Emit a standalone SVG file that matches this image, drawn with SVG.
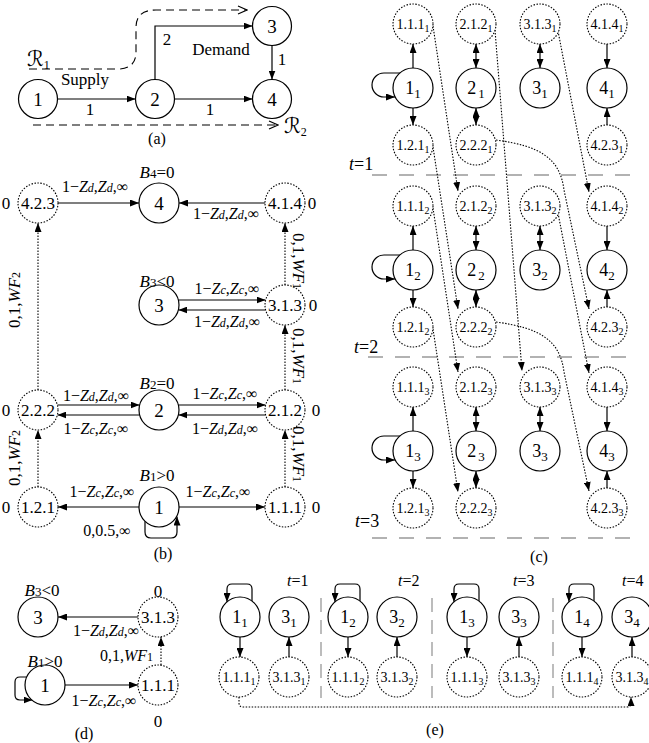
<svg xmlns="http://www.w3.org/2000/svg" width="649" height="743" viewBox="0 0 649 743">
<defs>
<style>
text{font-family:"Liberation Serif","Times New Roman",serif;fill:#000}
.n{fill:#fff;stroke:#000;stroke-width:1.2}
.d{fill:#fff;stroke:#000;stroke-width:1.1;stroke-dasharray:1.5 1.5}
.e{fill:none;stroke:#000;stroke-width:1.2;marker-end:url(#ah)}
.e2{fill:none;stroke:#000;stroke-width:1.2;marker-start:url(#ah);marker-end:url(#ah)}
.de{fill:none;stroke:#000;stroke-width:1.1;stroke-dasharray:1.5 1.5;marker-end:url(#ah)}
.rr{fill:none;stroke:#000;stroke-width:1.1;stroke-dasharray:8 5;marker-end:url(#oa)}
.sep{fill:none;stroke:#999;stroke-width:1.3;stroke-dasharray:15 12}
.vsep{fill:none;stroke:#999;stroke-width:1.3;stroke-dasharray:14 8}
.nl{font-size:19px;text-anchor:middle}
.dl{font-size:17px;text-anchor:middle}
.lb{font-size:16px;text-anchor:middle}
.cn{font-size:18px;text-anchor:middle}
.cl{font-size:14px;text-anchor:middle}
.i{font-style:italic}
.s12{font-size:12px}
.s10{font-size:10px}
.s13{font-size:13px}
.rt{font-family:"DejaVu Serif","DejaVu Sans",serif;font-size:21px}
</style>
<marker id="ah" viewBox="0 0 9 7" refX="9" refY="3.5" markerWidth="9" markerHeight="7" markerUnits="userSpaceOnUse" orient="auto-start-reverse"><path d="M0,0L9,3.5L0,7z" fill="#000"/></marker>
<marker id="oa" viewBox="0 0 11 10" refX="10" refY="5" markerWidth="11" markerHeight="10" markerUnits="userSpaceOnUse" orient="auto"><path d="M1,1L10,5L1,9" fill="none" stroke="#000" stroke-width="1.1"/></marker>
</defs>

<!-- ===== Panel (a) ===== -->
<g id="a-edges">
<path class="e" d="M57.5 99H135.5"/>
<path class="e" d="M174.5 99H252.5"/>
<path class="e" d="M155 79.5V26H252.5"/>
<path class="e" d="M272 45.5V79.5"/>
<path class="rr" d="M29 69H118C130 69 136 63 136 52V28C136 16 142 10 156 10H247"/>
<path class="rr" d="M33 125H278"/>
</g>
<g id="a1"><circle class="n" cx="38" cy="99" r="19.5"/><text class="nl" x="38" y="105.5">1</text></g>
<g id="a2"><circle class="n" cx="155" cy="99" r="19.5"/><text class="nl" x="155" y="105.5">2</text></g>
<g id="a3"><circle class="n" cx="272" cy="26" r="19.5"/><text class="nl" x="272" y="32.5">3</text></g>
<g id="a4"><circle class="n" cx="272" cy="99" r="19.5"/><text class="nl" x="272" y="105.5">4</text></g>
<g id="a-labels">
<text x="85" y="85" font-size="17" text-anchor="middle">Supply</text>
<text x="90" y="115" font-size="17" text-anchor="middle">1</text>
<text x="210" y="115" font-size="17" text-anchor="middle">1</text>
<text x="167" y="45" font-size="17" text-anchor="middle">2</text>
<text x="221" y="55" font-size="17" text-anchor="middle">Demand</text>
<text x="282" y="65" font-size="17" text-anchor="middle">1</text>
<text class="rt" x="27" y="66">ℛ<tspan font-family="Liberation Serif" font-size="12" dy="3">1</tspan></text>
<text class="rt" x="284" y="133">ℛ<tspan font-family="Liberation Serif" font-size="12" dy="3">2</tspan></text>
<text x="157" y="144" font-size="16" text-anchor="middle">(a)</text>
</g>

<!-- ===== Panel (b) ===== -->
<g id="b-edges">
<path class="e" d="M58 203H139"/>
<path class="e" d="M265 203H179"/>
<path class="e" d="M178.4 300H265.6"/>
<path class="e" d="M265.6 310H178.4"/>
<path class="e" d="M57.4 405H139.6"/>
<path class="e" d="M139.6 415H57.4"/>
<path class="e" d="M178.4 405H265.6"/>
<path class="e" d="M265.6 415H178.4"/>
<path class="e" d="M139 507H58"/>
<path class="e" d="M179 507H265"/>
<path class="e" d="M145 521.3V532Q145 538 151 538H171Q177 538 177 532V516.5"/>
<path class="de" d="M38 390V223"/>
<path class="de" d="M38 487V430"/>
<path class="de" d="M285 285V223"/>
<path class="de" d="M285 390V325"/>
<path class="de" d="M285 487V430"/>
</g>
<g id="b4"><circle class="n" cx="159" cy="203" r="20"/><text class="nl" x="159" y="209.5">4</text></g>
<g id="b3"><circle class="n" cx="159" cy="305" r="20"/><text class="nl" x="159" y="311.5">3</text></g>
<g id="b2"><circle class="n" cx="159" cy="410" r="20"/><text class="nl" x="159" y="416.5">2</text></g>
<g id="b1"><circle class="n" cx="159" cy="507" r="20"/><text class="nl" x="159" y="513.5">1</text></g>
<g id="b423"><circle class="d" cx="38" cy="203" r="20"/><text class="dl" x="38" y="209">4.2.3</text></g>
<g id="b414"><circle class="d" cx="285" cy="203" r="20"/><text class="dl" x="285" y="209">4.1.4</text></g>
<g id="b313"><circle class="d" cx="285" cy="305" r="20"/><text class="dl" x="285" y="311">3.1.3</text></g>
<g id="b222"><circle class="d" cx="38" cy="410" r="20"/><text class="dl" x="38" y="416">2.2.2</text></g>
<g id="b212"><circle class="d" cx="285" cy="410" r="20"/><text class="dl" x="285" y="416">2.1.2</text></g>
<g id="b121"><circle class="d" cx="38" cy="507" r="20"/><text class="dl" x="38" y="513">1.2.1</text></g>
<g id="b111"><circle class="d" cx="285" cy="507" r="20"/><text class="dl" x="285" y="513">1.1.1</text></g>
<g id="b-labels">
<text class="dl" x="6" y="209">0</text>
<text class="dl" x="312" y="209">0</text>
<text class="dl" x="313" y="311">0</text>
<text class="dl" x="6" y="416">0</text>
<text class="dl" x="316" y="416">0</text>
<text class="dl" x="6" y="513">0</text>
<text class="dl" x="316" y="513">0</text>
<text class="dl" x="157" y="178"><tspan class="i">B</tspan><tspan class="s13">4</tspan>=0</text>
<text class="dl" x="157" y="287"><tspan class="i">B</tspan><tspan class="s13">3</tspan>&lt;0</text>
<text class="dl" x="157" y="389"><tspan class="i">B</tspan><tspan class="s13">2</tspan>=0</text>
<text class="dl" x="157" y="481"><tspan class="i">B</tspan><tspan class="s13">1</tspan>&gt;0</text>
<text class="lb" x="95" y="192">1−<tspan class="i">Z</tspan><tspan class="i s12">d</tspan>,<tspan class="i">Z</tspan><tspan class="i s12">d</tspan>,∞</text>
<text class="lb" x="226" y="219">1−<tspan class="i">Z</tspan><tspan class="i s12">d</tspan>,<tspan class="i">Z</tspan><tspan class="i s12">d</tspan>,∞</text>
<text class="lb" x="227" y="294">1−<tspan class="i">Z</tspan><tspan class="i s12">c</tspan>,<tspan class="i">Z</tspan><tspan class="i s12">c</tspan>,∞</text>
<text class="lb" x="227" y="327">1−<tspan class="i">Z</tspan><tspan class="i s12">d</tspan>,<tspan class="i">Z</tspan><tspan class="i s12">d</tspan>,∞</text>
<text class="lb" x="96" y="401">1−<tspan class="i">Z</tspan><tspan class="i s12">d</tspan>,<tspan class="i">Z</tspan><tspan class="i s12">d</tspan>,∞</text>
<text class="lb" x="96" y="434">1−<tspan class="i">Z</tspan><tspan class="i s12">c</tspan>,<tspan class="i">Z</tspan><tspan class="i s12">c</tspan>,∞</text>
<text class="lb" x="225" y="399">1−<tspan class="i">Z</tspan><tspan class="i s12">c</tspan>,<tspan class="i">Z</tspan><tspan class="i s12">c</tspan>,∞</text>
<text class="lb" x="225" y="434">1−<tspan class="i">Z</tspan><tspan class="i s12">d</tspan>,<tspan class="i">Z</tspan><tspan class="i s12">d</tspan>,∞</text>
<text class="lb" x="102" y="497">1−<tspan class="i">Z</tspan><tspan class="i s12">c</tspan>,<tspan class="i">Z</tspan><tspan class="i s12">c</tspan>,∞</text>
<text class="lb" x="218" y="497">1−<tspan class="i">Z</tspan><tspan class="i s12">c</tspan>,<tspan class="i">Z</tspan><tspan class="i s12">c</tspan>,∞</text>
<text class="lb" x="107" y="536">0,0.5,∞</text>
<text class="dl" transform="translate(20 300) rotate(-90)">0,1,<tspan class="i">WF</tspan><tspan class="s12">2</tspan></text>
<text class="dl" transform="translate(20 458) rotate(-90)">0,1,<tspan class="i">WF</tspan><tspan class="s12">2</tspan></text>
<text class="dl" transform="translate(293 261) rotate(90)">0,1,<tspan class="i">WF</tspan><tspan class="s12">1</tspan></text>
<text class="dl" transform="translate(293 356) rotate(90)">0,1,<tspan class="i">WF</tspan><tspan class="s12">1</tspan></text>
<text class="dl" transform="translate(293 454) rotate(90)">0,1,<tspan class="i">WF</tspan><tspan class="s12">1</tspan></text>
<text x="163" y="559" font-size="16" text-anchor="middle">(b)</text>
</g>

<!-- ===== Panel (c) ===== -->
<g id="c-separators">
<path class="sep" d="M372 175H638"/>
<path class="sep" d="M368 357H638"/>
<path class="sep" d="M372 538H640"/>
<text x="349" y="170" font-size="18"><tspan class="i">t</tspan>=1</text>
<text x="354" y="353" font-size="18"><tspan class="i">t</tspan>=2</text>
<text x="355" y="527" font-size="18"><tspan class="i">t</tspan>=3</text>
<text x="539" y="562" font-size="16" text-anchor="middle">(c)</text>
</g>
<g id="c-edges">
<path class="e" d="M413 68V44"/>
<path class="e" d="M413 108V125"/>
<path class="e2" d="M476 44V68"/>
<path class="e2" d="M476 108V125"/>
<path class="e2" d="M540 44V68"/>
<path class="e" d="M607 44V68"/>
<path class="e" d="M607 125V108"/>
<path class="e" d="M400 73H384A12 12 0 0 0 384 97H395"/>
<path class="e" d="M413 250V226"/>
<path class="e" d="M413 290V307"/>
<path class="e2" d="M476 226V250"/>
<path class="e2" d="M476 290V307"/>
<path class="e2" d="M540 226V250"/>
<path class="e" d="M607 226V250"/>
<path class="e" d="M607 307V290"/>
<path class="e" d="M400 255H384A12 12 0 0 0 384 279H395"/>
<path class="e" d="M413 431V407"/>
<path class="e" d="M413 471V488"/>
<path class="e2" d="M476 407V431"/>
<path class="e2" d="M476 471V488"/>
<path class="e2" d="M540 407V431"/>
<path class="e" d="M607 407V431"/>
<path class="e" d="M607 488V471"/>
<path class="e" d="M400 436H384A12 12 0 0 0 384 460H395"/>
<path class="de" d="M433 26L458 191"/>
<path class="de" d="M433 147L458 309"/>
<path class="de" d="M558 31L589 192"/>
<path class="de" d="M496 140C540 146 560 158 564 190L589 309"/>
<path class="de" d="M495 30L522 371"/>
<path class="de" d="M433 208L458 372"/>
<path class="de" d="M433 329L458 492"/>
<path class="de" d="M558 213L589 373"/>
<path class="de" d="M496 322C540 328 560 340 564 372L589 491"/>
</g>
<g id="c111-1"><circle class="d" cx="413" cy="24" r="20"/><text class="cl" x="413" y="29">1.1.1<tspan class="s10" dy="3">1</tspan></text></g>
<g id="c212-1"><circle class="d" cx="476" cy="24" r="20"/><text class="cl" x="476" y="29">2.1.2<tspan class="s10" dy="3">1</tspan></text></g>
<g id="c313-1"><circle class="d" cx="540" cy="24" r="20"/><text class="cl" x="540" y="29">3.1.3<tspan class="s10" dy="3">1</tspan></text></g>
<g id="c414-1"><circle class="d" cx="607" cy="24" r="20"/><text class="cl" x="607" y="29">4.1.4<tspan class="s10" dy="3">1</tspan></text></g>
<g id="c1-1"><circle class="n" cx="413" cy="88" r="20"/><text class="cn" x="413" y="94">1<tspan class="s13" dy="4">1</tspan></text></g>
<g id="c2-1"><circle class="n" cx="476" cy="88" r="20"/><text class="cn" x="476" y="94">2<tspan class="s13" dx="2" dy="4">1</tspan></text></g>
<g id="c3-1"><circle class="n" cx="540" cy="88" r="20"/><text class="cn" x="540" y="94">3<tspan class="s13" dy="4">1</tspan></text></g>
<g id="c4-1"><circle class="n" cx="607" cy="88" r="20"/><text class="cn" x="607" y="94">4<tspan class="s13" dy="4">1</tspan></text></g>
<g id="c121-1"><circle class="d" cx="413" cy="145" r="20"/><text class="cl" x="413" y="150">1.2.1<tspan class="s10" dy="3">1</tspan></text></g>
<g id="c222-1"><circle class="d" cx="476" cy="145" r="20"/><text class="cl" x="476" y="150">2.2.2<tspan class="s10" dy="3">1</tspan></text></g>
<g id="c423-1"><circle class="d" cx="607" cy="145" r="20"/><text class="cl" x="607" y="150">4.2.3<tspan class="s10" dy="3">1</tspan></text></g>
<g id="c111-2"><circle class="d" cx="413" cy="206" r="20"/><text class="cl" x="413" y="211">1.1.1<tspan class="s10" dy="3">2</tspan></text></g>
<g id="c212-2"><circle class="d" cx="476" cy="206" r="20"/><text class="cl" x="476" y="211">2.1.2<tspan class="s10" dy="3">2</tspan></text></g>
<g id="c313-2"><circle class="d" cx="540" cy="206" r="20"/><text class="cl" x="540" y="211">3.1.3<tspan class="s10" dy="3">2</tspan></text></g>
<g id="c414-2"><circle class="d" cx="607" cy="206" r="20"/><text class="cl" x="607" y="211">4.1.4<tspan class="s10" dy="3">2</tspan></text></g>
<g id="c1-2"><circle class="n" cx="413" cy="270" r="20"/><text class="cn" x="413" y="276">1<tspan class="s13" dy="4">2</tspan></text></g>
<g id="c2-2"><circle class="n" cx="476" cy="270" r="20"/><text class="cn" x="476" y="276">2<tspan class="s13" dx="2" dy="4">2</tspan></text></g>
<g id="c3-2"><circle class="n" cx="540" cy="270" r="20"/><text class="cn" x="540" y="276">3<tspan class="s13" dy="4">2</tspan></text></g>
<g id="c4-2"><circle class="n" cx="607" cy="270" r="20"/><text class="cn" x="607" y="276">4<tspan class="s13" dy="4">2</tspan></text></g>
<g id="c121-2"><circle class="d" cx="413" cy="327" r="20"/><text class="cl" x="413" y="332">1.2.1<tspan class="s10" dy="3">2</tspan></text></g>
<g id="c222-2"><circle class="d" cx="476" cy="327" r="20"/><text class="cl" x="476" y="332">2.2.2<tspan class="s10" dy="3">2</tspan></text></g>
<g id="c423-2"><circle class="d" cx="607" cy="327" r="20"/><text class="cl" x="607" y="332">4.2.3<tspan class="s10" dy="3">2</tspan></text></g>
<g id="c111-3"><circle class="d" cx="413" cy="387" r="20"/><text class="cl" x="413" y="392">1.1.1<tspan class="s10" dy="3">3</tspan></text></g>
<g id="c212-3"><circle class="d" cx="476" cy="387" r="20"/><text class="cl" x="476" y="392">2.1.2<tspan class="s10" dy="3">3</tspan></text></g>
<g id="c313-3"><circle class="d" cx="540" cy="387" r="20"/><text class="cl" x="540" y="392">3.1.3<tspan class="s10" dy="3">3</tspan></text></g>
<g id="c414-3"><circle class="d" cx="607" cy="387" r="20"/><text class="cl" x="607" y="392">4.1.4<tspan class="s10" dy="3">3</tspan></text></g>
<g id="c1-3"><circle class="n" cx="413" cy="451" r="20"/><text class="cn" x="413" y="457">1<tspan class="s13" dy="4">3</tspan></text></g>
<g id="c2-3"><circle class="n" cx="476" cy="451" r="20"/><text class="cn" x="476" y="457">2<tspan class="s13" dx="2" dy="4">3</tspan></text></g>
<g id="c3-3"><circle class="n" cx="540" cy="451" r="20"/><text class="cn" x="540" y="457">3<tspan class="s13" dy="4">3</tspan></text></g>
<g id="c4-3"><circle class="n" cx="607" cy="451" r="20"/><text class="cn" x="607" y="457">4<tspan class="s13" dy="4">3</tspan></text></g>
<g id="c121-3"><circle class="d" cx="413" cy="508" r="20"/><text class="cl" x="413" y="513">1.2.1<tspan class="s10" dy="3">3</tspan></text></g>
<g id="c222-3"><circle class="d" cx="476" cy="508" r="20"/><text class="cl" x="476" y="513">2.2.2<tspan class="s10" dy="3">3</tspan></text></g>
<g id="c423-3"><circle class="d" cx="607" cy="508" r="20"/><text class="cl" x="607" y="513">4.2.3<tspan class="s10" dy="3">3</tspan></text></g>

<!-- ===== Panel (d) ===== -->
<g id="d-edges">
<path class="e" d="M138 617H58"/>
<path class="e" d="M65 685H138"/>
<path class="de" d="M161 665V637"/>
<path class="e" d="M26.5 677H20Q15 677 15 682V695Q15 700 20 700H32.5"/>
</g>
<g id="d3"><circle class="n" cx="38" cy="617" r="20"/><text class="nl" x="38" y="623.5">3</text></g>
<g id="d313"><circle class="d" cx="158" cy="617" r="20"/><text class="dl" x="158" y="623">3.1.3</text></g>
<g id="d1"><circle class="n" cx="45" cy="685" r="20"/><text class="nl" x="45" y="691.5">1</text></g>
<g id="d111"><circle class="d" cx="158" cy="685" r="20"/><text class="dl" x="158" y="691">1.1.1</text></g>
<g id="d-labels">
<text class="dl" x="42" y="596"><tspan class="i">B</tspan><tspan class="s13">3</tspan>&lt;0</text>
<text class="dl" x="158" y="597">0</text>
<text class="lb" x="106" y="636">1−<tspan class="i">Z</tspan><tspan class="i s12">d</tspan>,<tspan class="i">Z</tspan><tspan class="i s12">d</tspan>,∞</text>
<text class="dl" x="45" y="667"><tspan class="i">B</tspan><tspan class="s13">1</tspan>&gt;0</text>
<text x="100" y="661" font-size="16">0,1,<tspan class="i">WF</tspan><tspan class="s12">1</tspan></text>
<text class="lb" x="104" y="706">1−<tspan class="i">Z</tspan><tspan class="i s12">c</tspan>,<tspan class="i">Z</tspan><tspan class="i s12">c</tspan>,∞</text>
<text class="dl" x="158" y="727">0</text>
<text x="84" y="739" font-size="16" text-anchor="middle">(d)</text>
</g>

<!-- ===== Panel (e) ===== -->
<g id="e-separators">
<path class="vsep" d="M321 598V698"/>
<path class="vsep" d="M432 598V698"/>
<path class="vsep" d="M553 598V698"/>
<text x="287" y="586" font-size="16"><tspan class="i">t</tspan>=1</text>
<text x="398" y="586" font-size="16"><tspan class="i">t</tspan>=2</text>
<text x="513" y="586" font-size="16"><tspan class="i">t</tspan>=3</text>
<text x="622" y="586" font-size="16"><tspan class="i">t</tspan>=4</text>
<text x="435" y="735" font-size="16" text-anchor="middle">(e)</text>
</g>
<g id="e-edges">
<path class="e" d="M240 637V657"/>
<path class="e" d="M289 657V637"/>
<path class="e" d="M348 637V657"/>
<path class="e" d="M397 657V637"/>
<path class="e" d="M467 637V657"/>
<path class="e" d="M519 657V637"/>
<path class="e" d="M582 637V657"/>
<path class="e" d="M632 657V637"/>
<path class="e" d="M252 601V589Q252 584 247 584H232Q227 584 227 589V602"/>
<path class="e" d="M360 601V589Q360 584 355 584H340Q335 584 335 589V602"/>
<path class="e" d="M479 601V589Q479 584 474 584H459Q454 584 454 589V602"/>
<path class="e" d="M594 601V589Q594 584 589 584H574Q569 584 569 589V602"/>
<path class="de" d="M239 697V703Q239 707 243 707H627Q631 707 631 703V697"/>
</g>
<g id="e1-1"><circle class="n" cx="240" cy="617" r="20"/><text class="cn" x="240" y="623">1<tspan class="s13" dy="4">1</tspan></text></g>
<g id="e3-1"><circle class="n" cx="289" cy="617" r="20"/><text class="cn" x="289" y="623">3<tspan class="s13" dy="4">1</tspan></text></g>
<g id="e1-2"><circle class="n" cx="348" cy="617" r="20"/><text class="cn" x="348" y="623">1<tspan class="s13" dy="4">2</tspan></text></g>
<g id="e3-2"><circle class="n" cx="397" cy="617" r="20"/><text class="cn" x="397" y="623">3<tspan class="s13" dy="4">2</tspan></text></g>
<g id="e1-3"><circle class="n" cx="467" cy="617" r="20"/><text class="cn" x="467" y="623">1<tspan class="s13" dy="4">3</tspan></text></g>
<g id="e3-3"><circle class="n" cx="519" cy="617" r="20"/><text class="cn" x="519" y="623">3<tspan class="s13" dy="4">3</tspan></text></g>
<g id="e1-4"><circle class="n" cx="582" cy="617" r="20"/><text class="cn" x="582" y="623">1<tspan class="s13" dy="4">4</tspan></text></g>
<g id="e3-4"><circle class="n" cx="632" cy="617" r="20"/><text class="cn" x="632" y="623">3<tspan class="s13" dy="4">4</tspan></text></g>
<g id="e111-1"><circle class="d" cx="239" cy="677" r="20"/><text class="cl" x="239" y="682">1.1.1<tspan class="s10" dy="3">1</tspan></text></g>
<g id="e313-1"><circle class="d" cx="289" cy="677" r="20"/><text class="cl" x="289" y="682">3.1.3<tspan class="s10" dy="3">1</tspan></text></g>
<g id="e111-2"><circle class="d" cx="348" cy="677" r="20"/><text class="cl" x="348" y="682">1.1.1<tspan class="s10" dy="3">2</tspan></text></g>
<g id="e313-2"><circle class="d" cx="397" cy="677" r="20"/><text class="cl" x="397" y="682">3.1.3<tspan class="s10" dy="3">2</tspan></text></g>
<g id="e111-3"><circle class="d" cx="467" cy="677" r="20"/><text class="cl" x="467" y="682">1.1.1<tspan class="s10" dy="3">3</tspan></text></g>
<g id="e313-3"><circle class="d" cx="519" cy="677" r="20"/><text class="cl" x="519" y="682">3.1.3<tspan class="s10" dy="3">3</tspan></text></g>
<g id="e111-4"><circle class="d" cx="582" cy="677" r="20"/><text class="cl" x="582" y="682">1.1.1<tspan class="s10" dy="3">4</tspan></text></g>
<g id="e313-4"><circle class="d" cx="632" cy="677" r="20"/><text class="cl" x="632" y="682">3.1.3<tspan class="s10" dy="3">4</tspan></text></g>
</svg>
